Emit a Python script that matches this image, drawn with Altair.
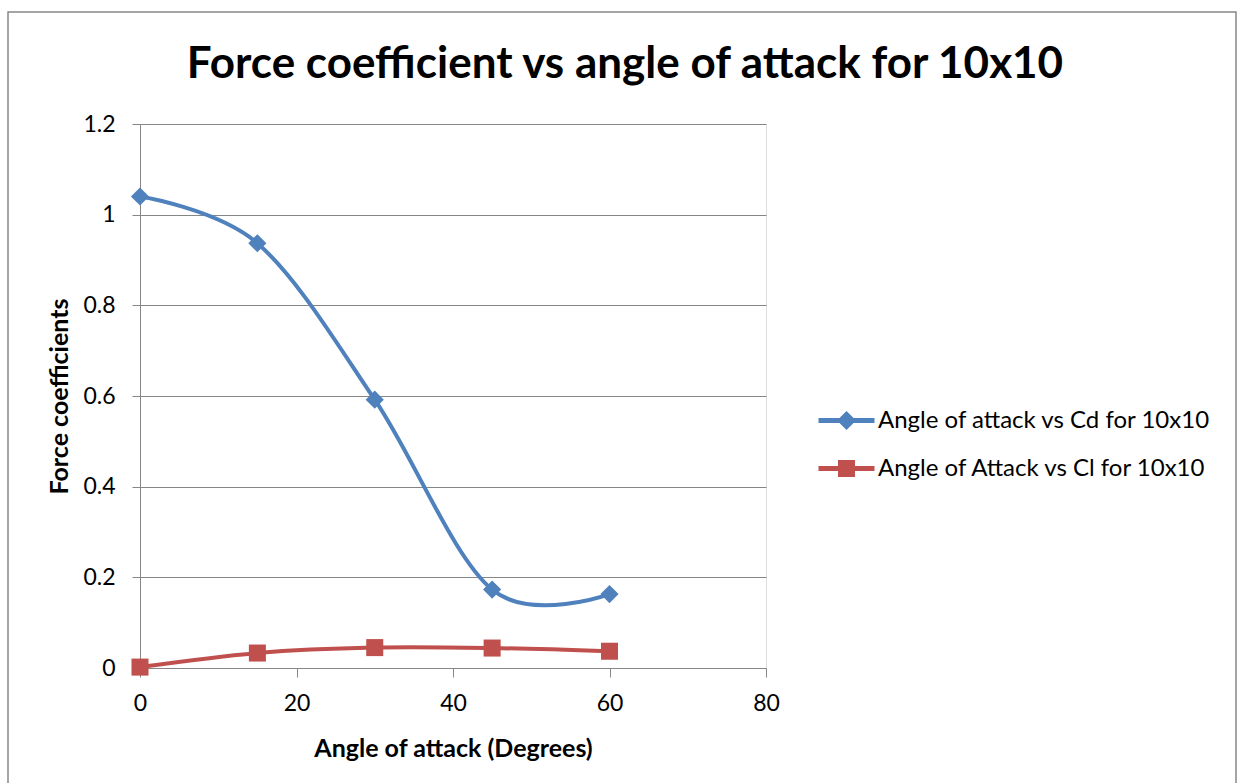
import altair as alt
import pandas as pd

angles = [0, 15, 30, 45, 60]
cd_values = [1.04, 0.937, 0.592, 0.173, 0.163]
cl_values = [0.002, 0.033, 0.045, 0.044, 0.037]
series_names = ["Angle of attack vs Cd for 10x10", "Angle of Attack vs Cl for 10x10"]
series_colors = ["#4F81BD", "#C0504D"]
series_shapes = ["diamond", "square"]
x_ticks = [0, 20, 40, 60, 80]
y_ticks = [0, 0.2, 0.4, 0.6, 0.8, 1.0, 1.2]

rows = []
for a, v in zip(angles, cd_values):
    rows.append({"angle": a, "value": v, "series": series_names[0]})
for a, v in zip(angles, cl_values):
    rows.append({"angle": a, "value": v, "series": series_names[1]})
df = pd.DataFrame(rows)

FONT = "Lato"
GRID = "#868686"

x_enc = alt.X("angle:Q",
              scale=alt.Scale(domain=[0, 80], nice=False, zero=False),
              axis=alt.Axis(values=x_ticks, title="Angle of attack (Degrees)", grid=False,
                            domainColor=GRID, tickColor=GRID, tickSize=9, labelFlush=False,
                            labelFontSize=23, labelPadding=15, labelColor="black",
                            titleFontSize=25, titleFontWeight="bold", titleColor="black",
                            titlePadding=21, labelFont=FONT, titleFont=FONT))
y_enc = alt.Y("value:Q",
              scale=alt.Scale(domain=[0, 1.2], nice=False),
              axis=alt.Axis(values=y_ticks, title="Force coefficients", grid=True,
                            gridColor=GRID, gridWidth=1, domainColor=GRID, tickColor=GRID,
                            tickSize=8, labelFontSize=23, labelPadding=17, labelColor="black",
                            labelFlush=False,
                            titleFontSize=25, titleFontWeight="bold", titleColor="black",
                            titlePadding=10, labelFont=FONT, titleFont=FONT,
                            format="~g"))

base = alt.Chart(df)

layers = []
for i, name in enumerate(series_names):
    sub = base.transform_filter(alt.datum.series == name)
    line = sub.mark_line(interpolate="cardinal", tension=0, strokeWidth=4,
                         color=series_colors[i]).encode(x=x_enc, y=y_enc)
    pts = sub.mark_point(shape=series_shapes[i], filled=True,
                         size=330 if i == 0 else 290, opacity=1,
                         color=series_colors[i]).encode(x="angle:Q", y="value:Q")
    layers += [line, pts]

legend_shapes = [
    "M-2.8,0H2.8M0,-0.6L0.6,0L0,0.6L-0.6,0Z",
    "M-2.8,0H2.8M-0.6,-0.6H0.6V0.6H-0.6Z",
]

leg = alt.Legend(title=None, orient="none", legendX=694, legendY=284, padding=0,
                 symbolSize=400, symbolStrokeWidth=5, symbolOpacity=1,
                 labelFontSize=24, labelFont=FONT, labelColor="black", labelLimit=0,
                 rowPadding=15, labelOffset=19)

color_scale = alt.Scale(domain=series_names, range=series_colors)
legend_layer = base.mark_point(filled=False, strokeWidth=5, opacity=1, size=0).encode(
    x="angle:Q", y="value:Q",
    stroke=alt.Stroke("series:N", scale=color_scale, legend=leg),
    fill=alt.Fill("series:N", scale=color_scale, legend=leg),
    shape=alt.Shape("series:N", scale=alt.Scale(domain=series_names, range=legend_shapes),
                    legend=leg),
)

border = alt.Chart(pd.DataFrame({"k": [0]})).mark_rect(
    fill=None, stroke="#888888", strokeWidth=1.5).encode(
    x=alt.value(-132), x2=alt.value(1096), y=alt.value(-112), y2=alt.value(700))

chart = alt.layer(border, *layers, legend_layer).properties(
    width=626, height=544,
    padding={"left": 140, "top": 124, "right": 472, "bottom": 115},
    autosize=alt.AutoSizeParams(type="none"),
    title=alt.TitleParams("Force coefficient vs angle of attack for 10x10",
                          fontSize=44, font=FONT, fontWeight="bold", color="black",
                          anchor="middle", frame="group", dx=172, offset=-111,
                          baseline="alphabetic"),
).configure_view(stroke=None).configure(background="white")

chart.save("out.html", embed_options={"renderer": "svg", "actions": False})
